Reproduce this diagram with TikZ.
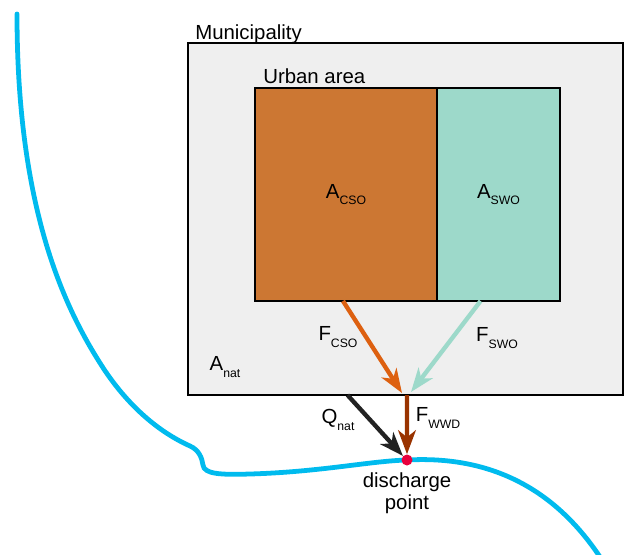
\documentclass[tikz,border=0pt]{standalone}
\usepackage{fontspec}
\setmainfont{Liberation Sans}
\usetikzlibrary{arrows.meta,positioning,calc}

\definecolor{muniGray}{HTML}{EFEFEF}
\definecolor{csoFill}{HTML}{CC7733}
\definecolor{swoFill}{HTML}{9DD9CA}
\definecolor{csoFlow}{HTML}{DD6010}
\definecolor{natFlow}{HTML}{222222}
\definecolor{wwdFlow}{HTML}{993300}
\definecolor{riverBlue}{HTML}{00BBEE}
\definecolor{pointRed}{HTML}{E8003D}

\newcommand{\lowidx}[1]{\raisebox{-0.6ex}{\fontsize{8.7}{10}\selectfont #1}}

\tikzset{
  area/.style={draw, line width=1.4pt, rectangle, outer sep=0pt, inner sep=0pt},
  lbl/.style={font=\fontsize{14.5}{16.5}\selectfont, inner sep=0pt},
  flow/.style={line width=3.1pt, -{Stealth[length=17pt, width=12.5pt, inset=5pt]}},
}

\begin{document}
\begin{tikzpicture}[x=0.025cm, y=-0.025cm]
  \useasboundingbox (0,0) rectangle (624,554);

  % municipality and urban area
  \node[area, fill=muniGray, minimum width=10.875cm, minimum height=8.8cm] (muni) at (405.5,219) {};
  \node[area, fill=csoFill, minimum width=4.55cm, minimum height=5.325cm] (cso) at (346,194.5) {};
  \node[area, fill=swoFill, minimum width=3.075cm, minimum height=5.325cm, anchor=west] (swo) at (cso.east) {};

  \node[lbl, anchor=base west] (munitxt) at (195,39) {Municipality};
  \node[lbl, anchor=base west] (urbantxt) at (263,83) {Urban area};
  \node[lbl] (acso) at (cso) {A\lowidx{CSO}};
  \node[lbl] (aswo) at (swo) {A\lowidx{SWO}};
  \node[lbl] (anat) at (225,367) {A\lowidx{nat}};

  % river
  \draw[riverBlue, line width=3.4pt, line cap=round]
    (17,14) .. controls (17,200) and (60,300) .. (100,363)
    .. controls (120,395) and (150,428) .. (190,446)
    .. controls (199,450) and (202,458) .. (203,465)
    .. controls (204,474) and (220,475) .. (250,474)
    .. controls (320,472) and (370,461) .. (407,460)
    .. controls (480,456) and (550,480) .. (602,560);

  \node[circle, fill=pointRed, inner sep=0pt, minimum size=0.275cm] (dp) at (407,460) {};
  \node[lbl, align=center, below=5pt of dp] (dptxt) {discharge\\[-1pt]point};

  % flows
  \coordinate (jcso) at (402,393);
  \coordinate (jswo) at (411,392);
  \draw[flow, csoFlow] ($(cso.south)+(-3,0)$) -- (jcso);
  \draw[flow, swoFill] ($(swo.south)+(-18,0)$) -- (jswo);
  \draw[flow, natFlow] ($(muni.south)+(-58,0)$) -- (dp.north west);
  \draw[flow, wwdFlow] ($(muni.south)+(1.5,0)$) -- (dp.north);

  \node[lbl] (fcso) at (338,337) {F\lowidx{CSO}};
  \node[lbl] (fswo) at (497,338) {F\lowidx{SWO}};
  \node[lbl] (qnat) at (338,420) {Q\lowidx{nat}};
  \node[lbl] (fwwd) at (438,418) {F\lowidx{WWD}};
\end{tikzpicture}
\end{document}
